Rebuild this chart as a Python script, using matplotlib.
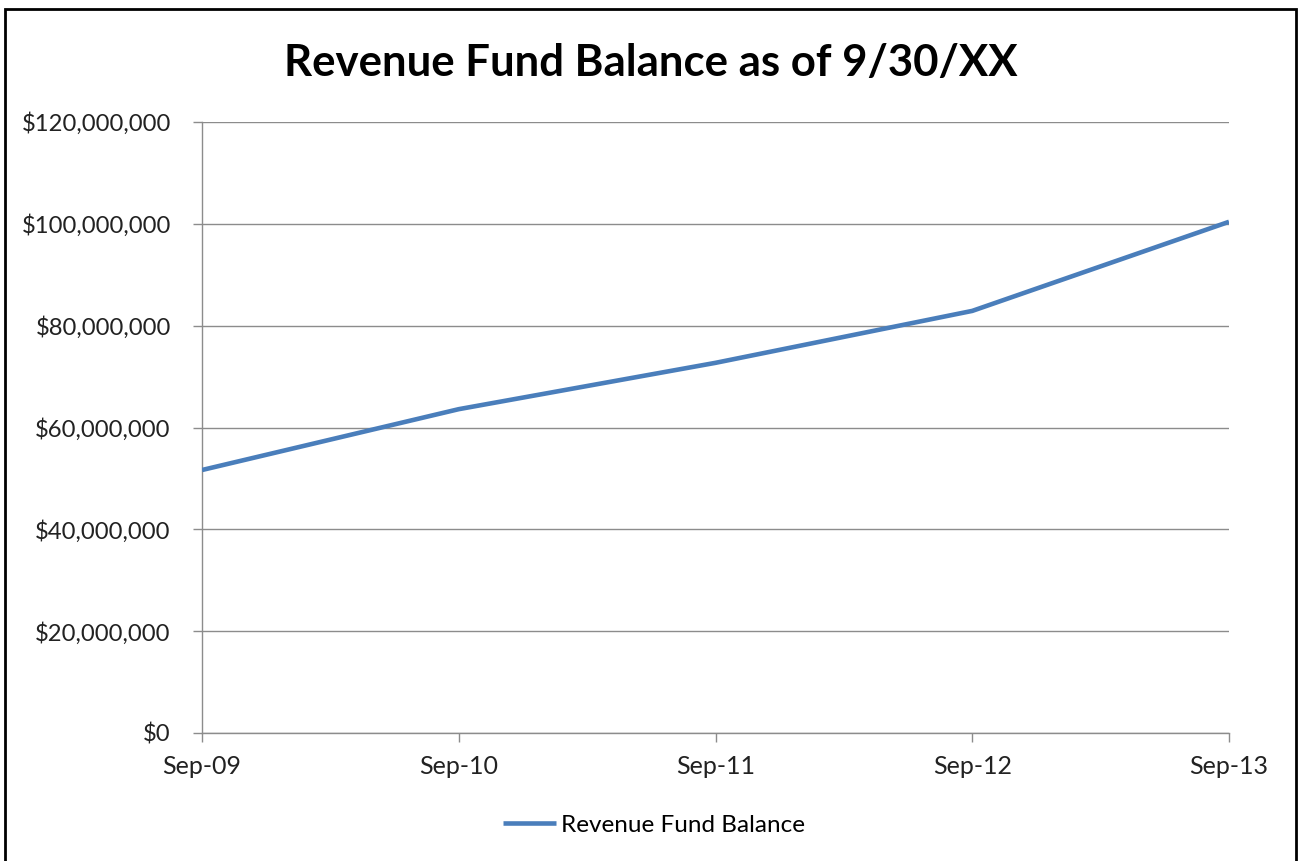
import matplotlib.pyplot as plt
from matplotlib.patches import Rectangle
from matplotlib.ticker import FuncFormatter

plt.rcParams['font.family'] = ['Lato', 'DejaVu Sans']

# Data
periods = ['Sep-09', 'Sep-10', 'Sep-11', 'Sep-12', 'Sep-13']
balance = [51_650_000, 63_600_000, 72_700_000, 82_900_000, 100_400_000]

fig = plt.figure(figsize=(13.01, 8.61), dpi=100)
ax = fig.add_axes([202 / 1301, (861 - 733) / 861, 1027 / 1301, 611 / 861])

x = list(range(len(periods)))
ax.plot(x, balance, color='#4A7EBB', linewidth=3.3, solid_capstyle='butt',
        label='Revenue Fund Balance', zorder=3)

ax.set_xlim(0, len(periods) - 1)
ax.set_ylim(0, 120_000_000)
ax.set_yticks(range(0, 120_000_001, 20_000_000))
ax.yaxis.set_major_formatter(FuncFormatter(lambda v, p: f'${v:,.0f}'))
ax.set_xticks(x)
ax.set_xticklabels(periods)

ax.grid(axis='y', color='#8C8C8C', linewidth=1.0)
ax.set_axisbelow(True)
for side in ['top', 'right']:
    ax.spines[side].set_visible(False)
for side in ['left', 'bottom']:
    ax.spines[side].set_color('#8C8C8C')
    ax.spines[side].set_linewidth(1.0)
ax.tick_params(axis='both', colors='#8C8C8C', length=6.5, width=1.0,
               labelcolor='#222222')
ax.tick_params(axis='x', labelsize=18, pad=9)
ax.tick_params(axis='y', labelsize=17.2, pad=16)

fig.text(651 / 1301, 1 - 63 / 861, 'Revenue Fund Balance as of 9/30/XX',
         ha='center', va='center', fontsize=31.5, fontweight='bold', color='black')

fig.legend(loc='center', bbox_to_anchor=(654 / 1301, 1 - 825 / 861),
           frameon=False, fontsize=17.5, handlelength=2.2, handletextpad=0.2)

fig.patches.append(Rectangle((5 / 1301, -0.01), 1291 / 1301, 1 - 9 / 861 + 0.01,
                             transform=fig.transFigure, fill=False,
                             edgecolor='black', linewidth=2.0))

fig.savefig('out.png', dpi=100)
